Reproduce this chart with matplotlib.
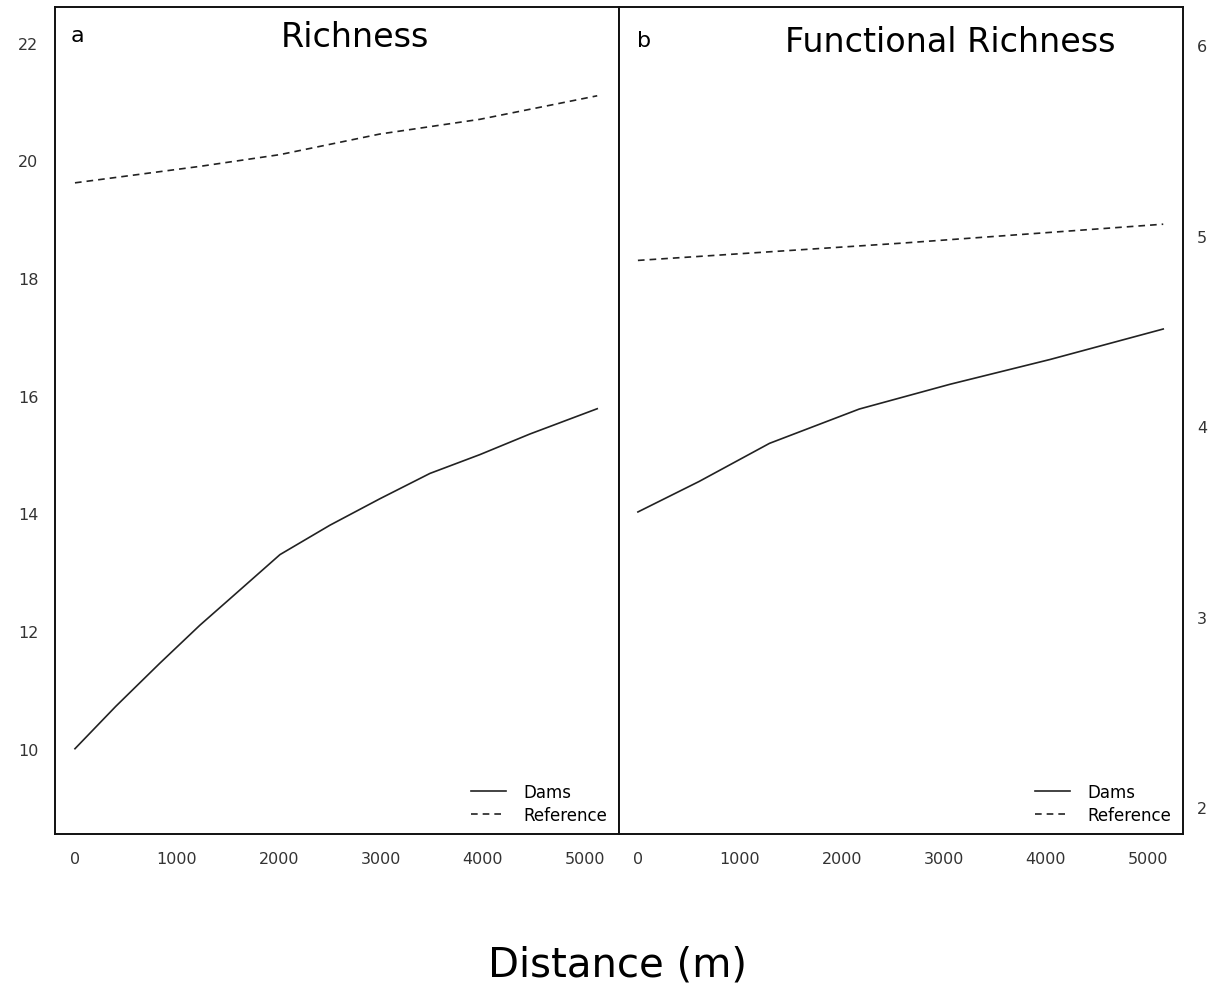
import numpy as np
import matplotlib
matplotlib.use('Agg')
import matplotlib.pyplot as plt

plt.rcParams['font.family'] = ['DejaVu Sans']

# Richness (panel a)
dist_a = [0, 400, 830, 1225, 1520, 2010, 2500, 2990, 3480, 3970, 4460, 5120]
dams_a = [10.0, 10.72, 11.45, 12.1, 12.55, 13.3, 13.8, 14.25, 14.68, 15.0, 15.35, 15.78]
ref_dist_a = [0, 1225, 2010, 2990, 3970, 5120]
ref_a = [19.62, 19.9, 20.1, 20.45, 20.7, 21.1]

# Functional richness (panel b)
dist_b = [0, 600, 1290, 2170, 3060, 4040, 5150]
dams_b = [3.55, 3.71, 3.91, 4.09, 4.22, 4.35, 4.51]
ref_dist_b = [0, 2570, 5150]
ref_b = [4.87, 4.96, 5.06]

xticks = [0, 1000, 2000, 3000, 4000, 5000]
yticks_a = [10, 12, 14, 16, 18, 20, 22]
yticks_b = [2, 3, 4, 5, 6]

fig = plt.figure(figsize=(12.11, 9.95), dpi=100)
ax1 = fig.add_axes([0.0454, 0.1608, 0.4657, 0.8312])
ax2 = fig.add_axes([0.5111, 0.1608, 0.4657, 0.8312])

lw = 1.2
lc = '#222222'
dash = (0, (4, 3))
ax1.plot(dist_a, dams_a, color=lc, lw=lw, label='Dams')
ax1.plot(ref_dist_a, ref_a, color=lc, lw=lw, ls=dash, label='Reference')
ax2.plot(dist_b, dams_b, color=lc, lw=lw, label='Dams')
ax2.plot(ref_dist_b, ref_b, color=lc, lw=lw, ls=dash, label='Reference')

ax1.set_xlim(-196, 5333)
ax1.set_ylim(8.55, 22.61)
ax2.set_xlim(-186, 5343)
ax2.set_ylim(1.86, 6.2)

tick_fs = 11.5
for ax in (ax1, ax2):
    ax.set_xticks(xticks)
    ax.set_xticklabels([str(t) for t in xticks], fontsize=tick_fs, color='#333333')
    ax.tick_params(length=0)
    ax.tick_params(axis='x', pad=12)
    for s in ax.spines.values():
        s.set_linewidth(1.4)
        s.set_color('#111111')
    ax.legend(loc='lower right', bbox_to_anchor=(0.98, 0.012), frameon=False,
              fontsize=12, handlelength=2.1, borderaxespad=0, borderpad=0,
              labelspacing=0.3, handletextpad=1.08)

ax1.set_yticks(yticks_a)
ax1.set_yticklabels([str(t) for t in yticks_a], fontsize=tick_fs, color='#333333')
ax1.tick_params(axis='y', pad=12)
ax2.yaxis.tick_right()
ax2.set_yticks(yticks_b)
ax2.set_yticklabels([str(t) for t in yticks_b], fontsize=tick_fs, color='#333333')
ax2.tick_params(axis='y', pad=10)

ax1.text(0.532, 0.953, 'Richness', transform=ax1.transAxes, ha='center', va='baseline', fontsize=24)
ax2.text(0.587, 0.947, 'Functional Richness', transform=ax2.transAxes, ha='center', va='baseline', fontsize=24)
ax1.text(0.027, 0.959, 'a', transform=ax1.transAxes, ha='left', va='baseline', fontsize=16)
ax2.text(0.032, 0.953, 'b', transform=ax2.transAxes, ha='left', va='baseline', fontsize=16)

fig.text(0.510, 0.019, 'Distance (m)', ha='center', va='baseline', fontsize=29)

fig.savefig('out.png', dpi=100)
